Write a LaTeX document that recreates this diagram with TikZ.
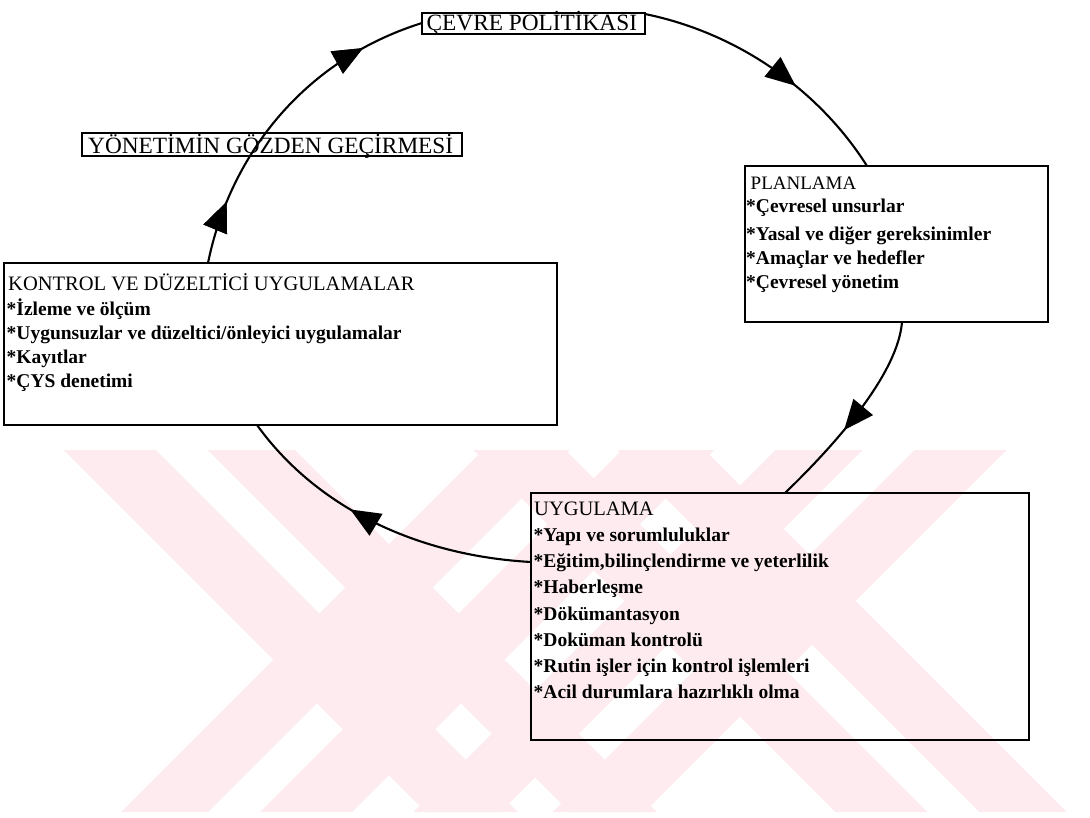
\documentclass[tikz,border=0pt]{standalone}
\usepackage{fontspec}
\setmainfont{Liberation Serif}
\usetikzlibrary{arrows.meta,calc,decorations.markings}
\definecolor{wm}{RGB}{253,235,239}
\begin{document}
\begin{tikzpicture}[x=1pt,y=-1pt,
  box/.style={draw, line width=1.8pt, inner sep=0pt, outer sep=0pt},
  lab/.style={font=\fontsize{23.3}{26}\selectfont, anchor=base west, inner sep=0pt},
  head/.style={font=\fontsize{20.5}{24}\selectfont, anchor=base west, inner sep=0pt},
  item/.style={font=\fontsize{19.5}{24}\selectfont\bfseries, anchor=base west, inner sep=0pt},
  conn/.style={line width=2.1pt},
  arrowat/.style={postaction={decorate},
    decoration={markings, mark=at position #1 with {\arrow{Triangle[length=30pt,width=25pt]}}}},
  wmark/.style={fill=wm, draw=none}
]
\useasboundingbox (0,0) rectangle (1090,817);
\fill[white] (0,0) rectangle (1090,817);

% watermark
\begin{scope}
\clip (0,450) rectangle (1090,812);
\fill[wmark] (64,450) -- (156,450) -- (518,812) -- (426,812) -- cycle;
\fill[wmark] (208,450) -- (295,450) -- (657,812) -- (570,812) -- cycle;
\fill[wmark] (483,450) -- (570,450) -- (208,812) -- (121,812) -- cycle;
\fill[wmark] (622,450) -- (714,450) -- (352,812) -- (260,812) -- cycle;
\fill[wmark] (273.5,659.5) -- (389,544) -- (504.5,659.5) -- (389,775) -- cycle;
\fill[wmark] (473.5,450) -- (565.5,450) -- (927.5,812) -- (835.5,812) -- cycle;
\fill[wmark] (617.5,450) -- (704.5,450) -- (1066.5,812) -- (979.5,812) -- cycle;
\fill[wmark] (775.5,450) -- (862.5,450) -- (500.5,812) -- (413.5,812) -- cycle;
\fill[wmark] (914.5,450) -- (1006.5,450) -- (644.5,812) -- (552.5,812) -- cycle;
\fill[wmark] (624.5,601) -- (740,485.5) -- (855.5,601) -- (740,716.5) -- cycle;
\end{scope}

% boxes
\node[box, minimum width=223pt, minimum height=21.3pt] (cev) at (533.5,23.35) {};
\node[box, minimum width=380pt, minimum height=23pt] (yon) at (272,144.5) {};
\node[box, minimum width=303pt, minimum height=156pt] (plan) at (896.5,244) {};
\node[box, minimum width=553pt, minimum height=162pt] (kon) at (280.5,344) {};
\node[box, minimum width=498pt, minimum height=247pt] (uyg) at (780,616.5) {};

% texts
\node[lab] (cevt) at (426.5,30.5) {ÇEVRE POLİTİKASI};
\node[lab] (yont) at (88,153) {YÖNETİMİN GÖZDEN GEÇİRMESİ};

\node[head, font=\fontsize{19}{24}\selectfont] (p0) at (750.5,189) {PLANLAMA};
\node[item] (p1) at (746,212) {*Çevresel unsurlar};
\node[item] (p2) at (746,240) {*Yasal ve diğer gereksinimler};
\node[item] (p3) at (746,264) {*Amaçlar ve hedefler};
\node[item] (p4) at (746,288) {*Çevresel yönetim};

\node[head] (k0) at (8,290) {KONTROL VE DÜZELTİCİ UYGULAMALAR};
\node[item] (k1) at (6.5,315) {*İzleme ve ölçüm};
\node[item] (k2) at (6.5,339) {*Uygunsuzlar ve düzeltici/önleyici uygulamalar};
\node[item] (k3) at (6.5,363) {*Kayıtlar};
\node[item] (k4) at (6.5,387) {*ÇYS denetimi};

\node[head] (u0) at (534,515) {UYGULAMA};
\node[item] (u1) at (533.5,541) {*Yapı ve sorumluluklar};
\node[item] (u2) at (533.5,567) {*Eğitim,bilinçlendirme ve yeterlilik};
\node[item] (u3) at (533.5,593.5) {*Haberleşme};
\node[item] (u4) at (533.5,620) {*Dökümantasyon};
\node[item] (u5) at (533.5,646) {*Doküman kontrolü};
\node[item] (u6) at (533.5,672) {*Rutin işler için kontrol işlemleri};
\node[item] (u7) at (533.5,698) {*Acil durumlara hazırlıklı olma};

% connector end points on the boxes
\coordinate (A0) at ($(cev.north east)+(0,1.3)$);
\coordinate (A2) at ($(plan.north west)+(122,0)$);
\coordinate (B0) at ($(plan.south west)+(157,0)$);
\coordinate (B2) at ($(uyg.north west)+(254,0)$);
\coordinate (C0) at ($(uyg.north west)+(0,69)$);
\coordinate (C2) at ($(kon.south west)+(253,0)$);
\coordinate (D0) at ($(kon.north west)+(204,0)$);
\coordinate (D3) at ($(cev.north west)+(0,10.3)$);

% connectors (clockwise cycle)
\draw[conn, arrowat=0.61] (A0) .. controls +(97.7,20) and +(-45.2,-71.7) .. (A2);
\draw[conn, arrowat=0.59] (B0) .. controls +(-4,50) and +(55,-53) .. (B2);
\draw[conn, arrowat=0.6] (C0) .. controls +(-116.7,-6.5) and +(58,80.7) .. (C2);
\draw[conn, arrowat=0.19, arrowat=0.81] (D0) .. controls +(21,-103.7) and +(-122,38.3) .. (D3);
\end{tikzpicture}
\end{document}
